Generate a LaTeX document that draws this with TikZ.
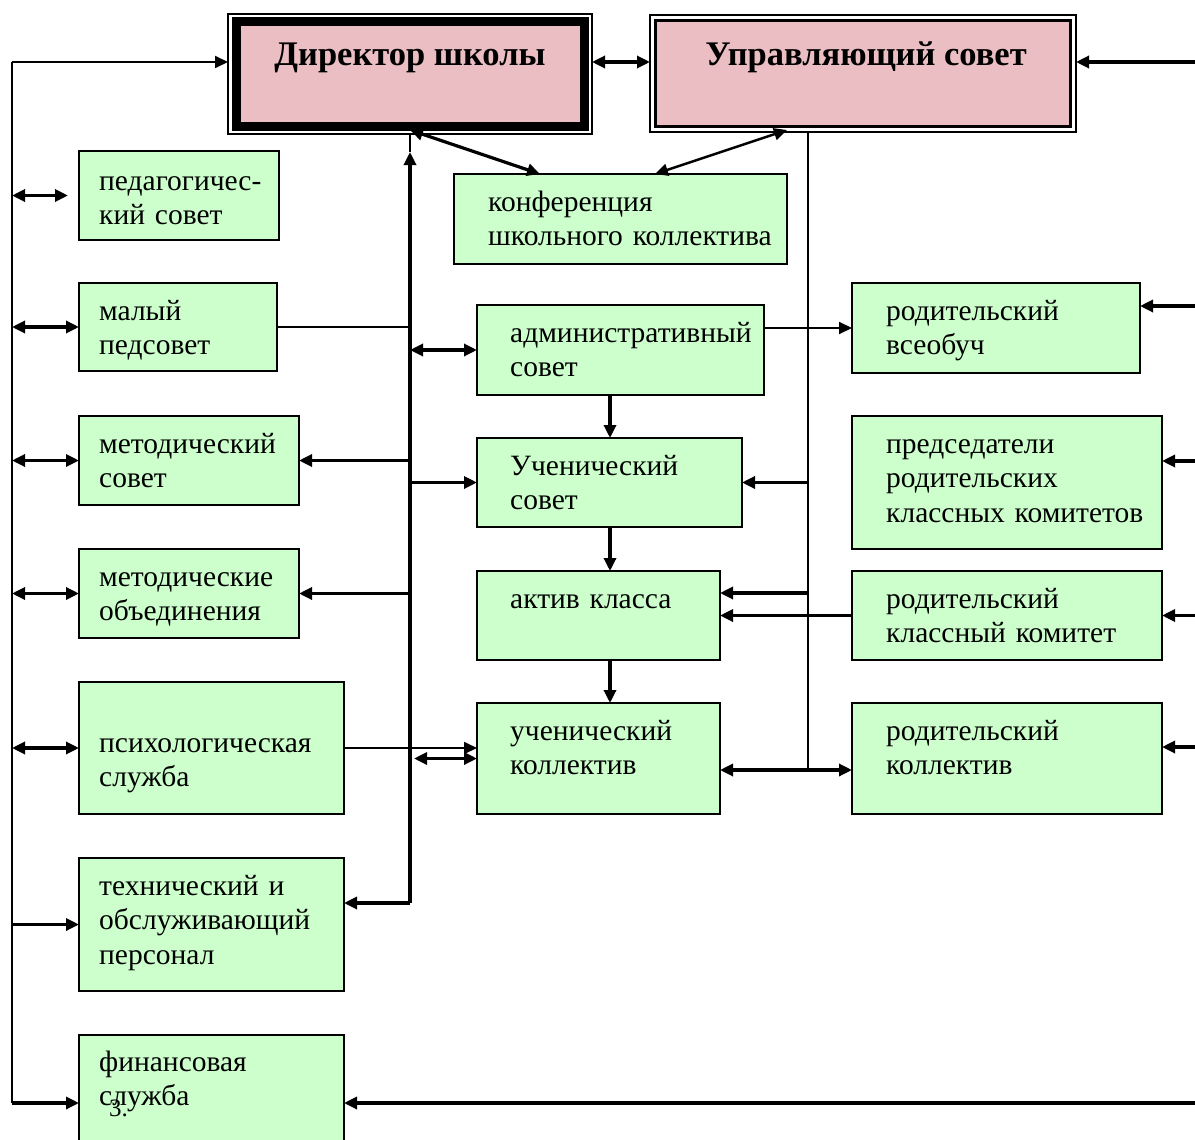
\documentclass[tikz,border=0pt]{standalone}
\usepackage{fontspec}
\setmainfont{Liberation Serif}
\usetikzlibrary{arrows.meta,calc}
\definecolor{boxgreen}{RGB}{204,255,204}
\definecolor{boxpink}{RGB}{234,190,194}
\tikzset{
  box/.style={draw=black, line width=1.6pt, fill=boxgreen, inner sep=0pt, outer sep=0pt, anchor=north west},
  txt/.style={anchor=base west, inner sep=0pt, align=left, text width=330pt, font=\fontsize{29.5}{34.5}\selectfont},
  ttl/.style={anchor=base, inner sep=0pt, font=\bfseries\fontsize{34.5}{40}\selectfont},
  frame/.style={draw, line width=1.5pt, fill=white, anchor=north west, inner sep=0pt, outer sep=0pt},
  thk/.style={line width=3.2pt},
  thn/.style={line width=1.8pt},
  >={Triangle[length=13pt,width=12pt]}
}
\newcommand\gbox[8]{%
  \node[box, minimum width={(#4-#2)*1pt}, minimum height={(#5-#3)*1pt}] (#1) at (#2,#3) {};
  \node[txt] (#1t) at (#6,#7) {#8};}
\begin{document}
\begin{tikzpicture}[x=1pt,y=-1pt]
\useasboundingbox[fill=white] (0,0) rectangle (1195,1140);
% top boxes
\node[frame, minimum width=364pt, minimum height=120pt] (dir) at (228,14) {};
\fill[boxpink] (236,22) rectangle (584,126);
\draw[line width=9pt] (236,22) rectangle (584,126);
\node[ttl] (dirt) at (410,66) {Директор школы};
\node[frame, minimum width=426pt, minimum height=117pt] (gov) at (650,15) {};
\fill[boxpink] (655.5,20.5) rectangle (1070.5,126.5);
\draw[line width=3pt] (655.5,20.5) rectangle (1070.5,126.5);
\node[ttl] (govt) at (866,66) {Управляющий совет};
% green boxes
\gbox{ped}{79}{151}{279}{240}{99}{190}{педагогичес-\\кий совет}
\gbox{conf}{454}{174}{787}{264}{488}{211}{конференция\\школьного коллектива}
\gbox{mp}{79}{283}{277}{371}{99}{320}{малый\\педсовет}
\gbox{adm}{477}{305}{764}{395}{510}{342}{административный\\совет}
\gbox{vs}{852}{283}{1140}{373}{886}{320}{родительский\\всеобуч}
\gbox{ms}{79}{416}{299}{505}{99}{453}{методический\\совет}
\gbox{us}{477}{438}{742}{527}{510}{475}{Ученический\\совет}
\gbox{pr}{852}{416}{1162}{549}{886}{453}{председатели\\родительских\\классных комитетов}
\gbox{mo}{79}{549}{299}{638}{99}{586}{методические\\объединения}
\gbox{ak}{477}{571}{720}{660}{510}{608}{актив класса}
\gbox{rk}{852}{571}{1162}{660}{886}{608}{родительский\\классный комитет}
\gbox{ps}{79}{682}{344}{814}{99}{752}{психологическая\\служба}
\gbox{uk}{477}{703}{720}{814}{510}{740}{ученический\\коллектив}
\gbox{rc}{852}{703}{1162}{814}{886}{740}{родительский\\коллектив}
\gbox{th}{79}{858}{344}{991}{99}{895}{технический и\\обслуживающий\\персонал}
\gbox{fs}{79}{1035}{344}{1160}{99}{1071}{финансовая\\служба}
\node[anchor=base west, inner sep=0pt, font=\fontsize{25}{29}\selectfont] (pg) at (109,1116) {3.};
% coordinates
\coordinate (LT) at (12,62);
\coordinate (LB) at (12,1103);
\coordinate (RT) at (1195,62);
\coordinate (RB) at (1195,1103);
\coordinate (SB) at (410,903);
\coordinate (SA) at (410,152);
\coordinate (VX) at (610,0);
\coordinate (RX) at (808,770);
\coordinate (A1) at (808,593);
\coordinate (R1) at (1195,306);
\coordinate (R2) at (1195,461);
\coordinate (R4) at (1195,747);
% left trunk
\draw[thn] (LB) -- (LT);
\draw[thn,->] (LT) -- (LT -| dir.west);
\draw[thk,->] (LB) -- (LB -| fs.west);
\draw[thk,<->,shorten >=11pt] (LT |- ped.west) -- (ped.west);
\draw[thk,<->] (LT |- mp.west) -- (mp.west);
\draw[thk,<->] (LT |- ms.west) -- (ms.west);
\draw[thk,<->] (LT |- mo.west) -- (mo.west);
\draw[thk,<->] (LT |- ps.west) -- (ps.west);
\draw[thk,->] (LT |- th.west) -- (th.west);
% top
\draw[thk,<->] (dir.east |- LT) -- (gov.west |- LT);
\draw[thk,->] (RT) -- (RT -| gov.east);
\draw[thk,<->] ($(dir.south)+(0,-4)$) -- ($(conf.north west)+(86,0)$);
\draw[line width=2.4pt,<->] ($(gov.south west)+(137,-2)$) -- ($(conf.north west)+(201,0)$);
% spine
\draw[thk,->] (SB) -- (SA);
\draw[thn] (SA) -- (dir.south);
\draw[thk,<->] (SB |- adm.west) -- (adm.west);
\draw[thk,->] (SB |- ms.east) -- (ms.east);
\draw[thk,->] (SB |- us.west) -- (us.west);
\draw[thk,->] (SB |- mo.east) -- (mo.east);
\draw[thk,->] (SB) -- (SB -| th.east);
\draw[thn] (mp.east) -- (SB |- mp.east);
\draw[thn,->] (ps.east) -- (ps.east -| uk.west);
\draw[thk,<->] ($(SB |- uk.west)+(4,0)$) -- (uk.west);
% middle column
\draw[thn,->] (vs.west -| adm.east) -- (vs.west);
\draw[thk,->] (VX |- adm.south) -- (VX |- us.north);
\draw[thk,->] (VX |- us.south) -- (VX |- ak.north);
\draw[thk,->] (VX |- ak.south) -- (VX |- uk.north);
% right trunk
\draw[thn] (gov.south -| RX) -- (RX);
\draw[thk,->] (RX |- us.east) -- (us.east);
\draw[thk,->] (A1) -- (A1 -| ak.east);
\draw[thk,->] (rk.west) -- (rk.west -| ak.east);
\draw[thk,<->] (RX -| uk.east) -- (RX -| rc.west);
% right edge
\draw[thk,->] (R1) -- (R1 -| vs.east);
\draw[thk,->] (R2) -- (R2 -| pr.east);
\draw[thk,->] (RT |- rk.east) -- (rk.east);
\draw[thk,->] (R4) -- (R4 -| rc.east);
\draw[thk,->] (RB) -- (RB -| fs.east);
\end{tikzpicture}
\end{document}
